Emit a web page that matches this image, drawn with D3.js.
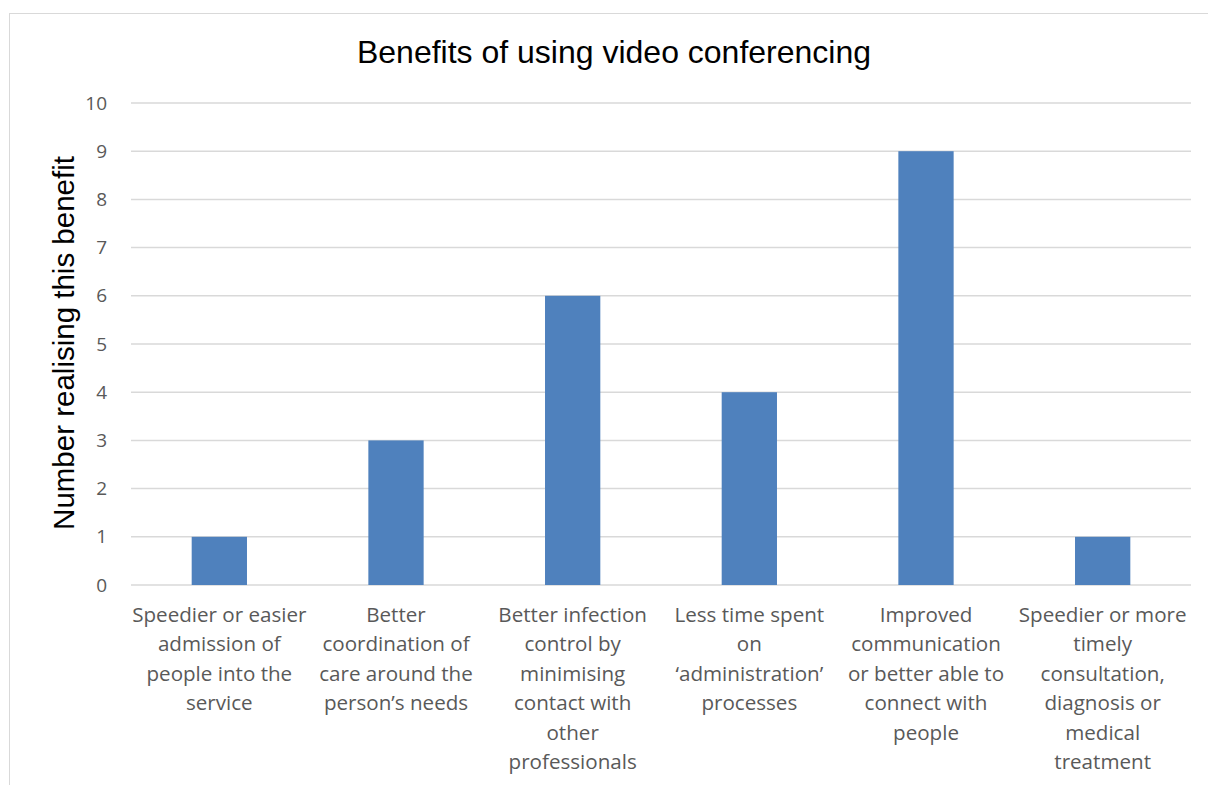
<!DOCTYPE html>
<html><head><meta charset="utf-8">
<script src="https://cdn.jsdelivr.net/npm/d3@7"></script>
<style>body{margin:0;background:#fff}svg{display:block}</style>
</head><body>
<svg id="c" width="1208" height="785"></svg>
<script>
const categories = [
  ["Speedier or easier","admission of","people into the","service"],
  ["Better","coordination of","care around the","person’s needs"],
  ["Better infection","control by","minimising","contact with","other","professionals"],
  ["Less time spent","on","‘administration’","processes"],
  ["Improved","communication","or better able to","connect with","people"],
  ["Speedier or more","timely","consultation,","diagnosis or","medical","treatment"]
];
const values = [1, 3, 6, 4, 9, 1];
const yTicks = [0,1,2,3,4,5,6,7,8,9,10];
const title = "Benefits of using video conferencing";
const yLabel = "Number realising this benefit";

(function(){
const svg = d3.select("#c");
svg.append("rect").attr("x",9.5).attr("y",13.5).attr("width",1220).attr("height",800)
  .attr("fill","#fff").attr("stroke","#d9d9d9").attr("stroke-width",1);

const pL=131, pR=1191, pT=103, pB=585;
const x = d3.scaleBand().domain(d3.range(categories.length)).range([pL,pR]).paddingInner(0.687).paddingOuter(0.3435);
const y = d3.scaleLinear().domain([0,10]).range([pB,pT]);

const g = svg.append("g");
g.selectAll("line.grid").data(yTicks).join("line")
  .attr("x1",pL).attr("x2",pR).attr("y1",d=>y(d)).attr("y2",d=>y(d))
  .attr("stroke","#d9d9d9").attr("stroke-width",1.5);

g.selectAll("rect.bar").data(values).join("rect")
  .attr("x",(d,i)=>x(i)).attr("width",x.bandwidth())
  .attr("y",d=>y(d)).attr("height",d=>y(0)-y(d)).attr("fill","#4f81bd");

g.selectAll("text.yt").data(yTicks).join("text")
  .attr("x",107).attr("y",d=>y(d)).attr("dy","0.35em").attr("text-anchor","end")
  .attr("font-family","'Open Sans', Lato, sans-serif").attr("font-size",19).attr("fill","#595959")
  .text(d=>d);

const cl = g.selectAll("text.cat").data(categories).join("text")
  .attr("text-anchor","middle").attr("font-family","'Open Sans', Lato, sans-serif")
  .attr("font-size",20.6).attr("fill","#595959");
cl.each(function(lines,i){
  const t=d3.select(this);
  lines.forEach((ln,j)=>{
    t.append("tspan").attr("x",x(i)+x.bandwidth()/2).attr("y",622+j*29.4).text(ln);
  });
});

svg.append("text").attr("x",614).attr("y",63).attr("text-anchor","middle")
  .attr("font-family","'Liberation Sans', Arial, sans-serif").attr("font-size",32).attr("fill","#000")
  .text(title);

svg.append("text").attr("transform","translate(74,343) rotate(-90)").attr("text-anchor","middle")
  .attr("font-family","'Liberation Sans', Arial, sans-serif").attr("font-size",29.5).attr("fill","#000")
  .text(yLabel);
})();
</script>
</body></html>
